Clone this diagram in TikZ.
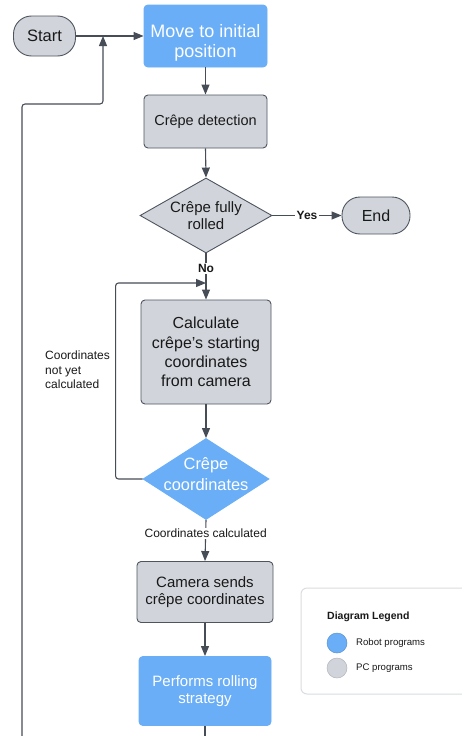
\documentclass[tikz,border=0pt]{standalone}
\usepackage{fontspec}
\setmainfont{Liberation Sans}
\usetikzlibrary{shapes.geometric,arrows.meta}
\definecolor{robot}{HTML}{6AAEF7}
\definecolor{pc}{HTML}{D1D5DB}
\definecolor{edge}{HTML}{4F555F}
\definecolor{ln}{HTML}{474D57}
\definecolor{lgborder}{HTML}{DADCDF}
\newcommand{\fs}[2]{\fontsize{#1}{#2}\selectfont}
\begin{document}
\begin{tikzpicture}[x=1pt,y=-1pt,
  pcbox/.style={rectangle, rounded corners=4pt, draw=edge, line width=0.9pt, fill=pc, text=black!90, align=center, inner sep=0pt},
  robotbox/.style={rectangle, rounded corners=4pt, draw=robot, line width=0.9pt, fill=robot, text=white, align=center, inner sep=0pt},
  pill/.style={rectangle, rounded corners=18pt, draw=edge, line width=0.9pt, fill=pc, text=black!90, inner sep=0pt},
  decision/.style={diamond, draw=edge, line width=0.9pt, inner sep=0pt},
  dtext/.style={align=center, inner sep=0pt},
  flow/.style={draw=ln, line width=1.1pt, -{Triangle[length=10pt,width=8pt]}},
  plain/.style={draw=ln, line width=1.1pt},
  lbl/.style={font=\fs{12}{14.5}, fill=white, inner sep=1.5pt, text=black!90},
  blbl/.style={lbl, font=\fs{12}{14.5}\bfseries}
]
\useasboundingbox (0,0) rectangle (462,736);
\clip (0,0) rectangle (462,736);
\fill[white] (0,0) rectangle (462,736);

% nodes
\node[pill, minimum width=62pt, minimum height=40pt, font=\fs{16.5}{19}] (start) at (44.5,36) {Start};
\node[robotbox, minimum width=123pt, minimum height=62pt] (move) at (205.5,36) {};
\node[dtext, text=white, font=\fs{18}{20.5}] (movetext) at (205.5,43) {Move to initial\\position};
\node[pcbox, minimum width=123pt, minimum height=53pt, font=\fs{14.5}{17}] (detect) at (205.5,121.5) {Cr\^epe detection};
\node[decision, fill=pc, minimum width=132pt, minimum height=75pt] (rolled) at (206,215.5) {};
\node[dtext, text=black!90, font=\fs{15}{16.5}] (rolledtext) at (206,215.5) {Cr\^epe fully\\rolled};
\node[pill, minimum width=68pt, minimum height=37pt, font=\fs{16}{19}] (end) at (376,215.5) {End};
\node[pcbox, minimum width=130pt, minimum height=104pt, font=\fs{16}{19.3}] (calc) at (206,352) {Calculate\\cr\^epe's starting\\coordinates\\from camera};
\node[decision, draw=robot, fill=robot, minimum width=126pt, minimum height=81pt] (coords) at (206,479) {};
\node[dtext, text=white, font=\fs{16.4}{20.5}] (coordstext) at (206,474) {Cr\^epe\\coordinates};
\node[pcbox, minimum width=136pt, minimum height=61pt, font=\fs{15}{17.7}] (camera) at (205,592) {Camera sends\\cr\^epe coordinates};
\node[robotbox, minimum width=132pt, minimum height=69pt, font=\fs{15}{17.5}] (perform) at (205,691) {Performs rolling\\strategy};

\coordinate (merge) at (206,283);
\coordinate (join) at (103,36);
\coordinate (downend) at (205,740);
\coordinate (leftstart) at (22,740);

% connectors
\draw[flow] (start.east) -- (move.west);
\draw[flow] (move.south) -- (detect.north);
\draw[flow] (detect.south) -- (rolled.north);
\draw[flow] (rolled.east) -- node[blbl] {Yes} (end.west);
\draw[flow] (rolled.south) -- node[blbl, pos=0.33] {No} (calc.north);
\draw[flow, rounded corners=3pt] (coords.west) -- ++(-27,0) |- (merge);
\draw[flow] (calc.south) -- (coords.north);
\draw[flow] (coords.south) -- node[lbl, pos=0.33] {Coordinates calculated} (camera.north);
\draw[flow] (camera.south) -- (perform.north);
\draw[plain] (perform.south) -- (downend);
\draw[flow, rounded corners=3pt] (leftstart) |- (103,104) -- (join);

\node[font=\fs{12}{14.5}, align=left, anchor=west, text=black!90, inner sep=0pt] (notyet) at (45,370) {Coordinates\\not yet\\calculated};

% legend
\node[rectangle, rounded corners=6pt, draw=lgborder, line width=1pt, fill=white, minimum width=182pt, minimum height=106pt, inner sep=0pt] (legend) at (392,641) {};
\node[font=\fs{10.5}{12}\bfseries, anchor=west, inner sep=0pt, text=black!90] (lgtitle) at (327,617) {Diagram Legend};
\node[circle, fill=robot, draw=robot!85!black, line width=0.5pt, minimum size=20pt, inner sep=0pt] (lgrobot) at (337,643) {};
\node[circle, fill=pc, draw=pc!85!black, line width=0.5pt, minimum size=20pt, inner sep=0pt] (lgpc) at (337,668) {};
\node[font=\fs{9.6}{11}, anchor=west, inner sep=0pt, text=black!90] (lgrobottxt) at (356,643) {Robot programs};
\node[font=\fs{9.6}{11}, anchor=west, inner sep=0pt, text=black!90] (lgpctxt) at (356,668) {PC programs};
\end{tikzpicture}
\end{document}
